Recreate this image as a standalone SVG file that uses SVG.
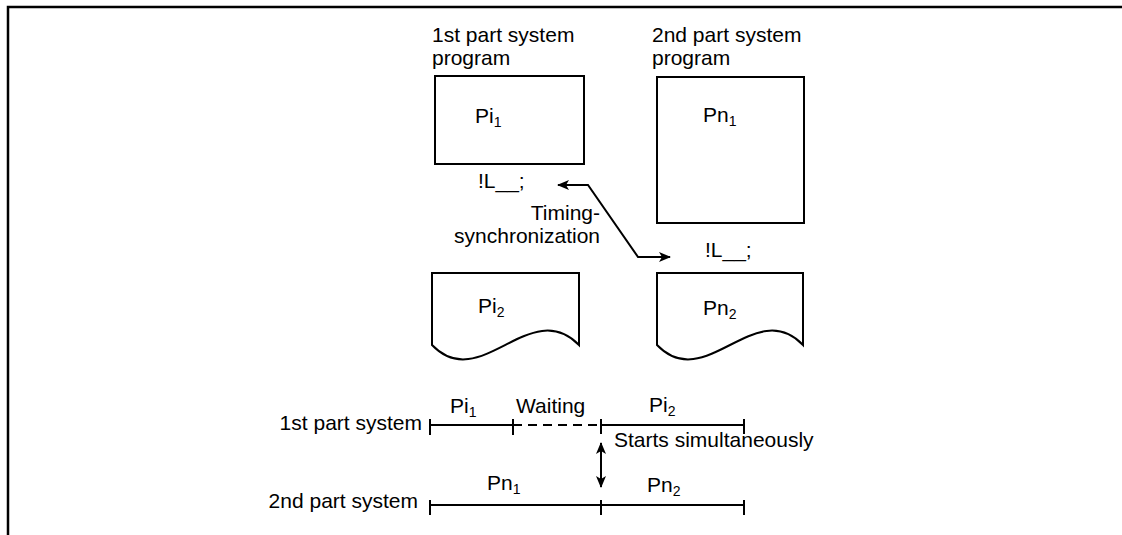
<svg xmlns="http://www.w3.org/2000/svg" width="1122" height="535" viewBox="0 0 1122 535">
<defs>
<marker id="ah" viewBox="0 0 12 10" refX="11" refY="5" markerWidth="12" markerHeight="10" markerUnits="userSpaceOnUse" orient="auto-start-reverse">
<path d="M0,0 L12,5 L0,10 L3,5 Z" fill="#000"/>
</marker>
</defs>
<style>
text{font-family:"Liberation Sans",Arial,sans-serif;font-size:21px;fill:#000}
.sub{font-size:14px}
.shape{fill:#fff;stroke:#000;stroke-width:2}
.ln{fill:none;stroke:#000;stroke-width:2}
.dash{fill:none;stroke:#000;stroke-width:2;stroke-dasharray:9,6}
</style>
<rect width="1122" height="535" fill="#fff"/>
<path d="M8,535 V7 H1122" fill="none" stroke="#000" stroke-width="2.5"/>

<g id="label-prog1">
<text x="432" y="42">1st part system</text>
<text x="432" y="65">program</text>
</g>
<g id="label-prog2">
<text x="652" y="42">2nd part system</text>
<text x="652" y="65">program</text>
</g>

<g id="node-pi1">
<rect class="shape" x="435" y="76" width="149" height="88"/>
<text x="475" y="123">Pi<tspan class="sub" dy="4">1</tspan></text>
</g>
<g id="node-pn1">
<rect class="shape" x="657" y="77" width="147" height="146"/>
<text x="703" y="122">Pn<tspan class="sub" dy="4">1</tspan></text>
</g>
<g id="label-l1"><text x="478" y="188">!L__;</text></g>
<g id="label-l2"><text x="705" y="257">!L__;</text></g>
<g id="label-sync">
<text x="600" y="220" text-anchor="end">Timing-</text>
<text x="600" y="243" text-anchor="end">synchronization</text>
</g>

<g id="node-pi2">
<path class="shape" d="M432,345 V273 H579 V345 C530,295 480,395 432,345 Z"/>
<text x="478" y="313">Pi<tspan class="sub" dy="4">2</tspan></text>
</g>
<g id="node-pn2">
<path class="shape" d="M657,345 V273 H803 V345 C755,295 705,395 657,345 Z"/>
<text x="703" y="315">Pn<tspan class="sub" dy="4">2</tspan></text>
</g>

<g id="connectors">
<path class="ln" d="M558,185 H588 L638,257 H670" marker-start="url(#ah)" marker-end="url(#ah)"/>
<line class="ln" x1="601" y1="443" x2="601" y2="487" marker-start="url(#ah)" marker-end="url(#ah)"/>
</g>

<g id="timeline-1">
<text x="422" y="430" text-anchor="end">1st part system</text>
<line class="ln" x1="430" y1="425" x2="513" y2="425"/>
<line class="dash" x1="513" y1="425" x2="601" y2="425"/>
<line class="ln" x1="601" y1="425" x2="744" y2="425"/>
<line class="ln" x1="430" y1="419" x2="430" y2="435"/>
<line class="ln" x1="513" y1="419" x2="513" y2="435"/>
<line class="ln" x1="601" y1="419" x2="601" y2="434"/>
<line class="ln" x1="744" y1="419" x2="744" y2="434"/>
<text x="450" y="413">Pi<tspan class="sub" dy="4">1</tspan></text>
<text x="516" y="413">Waiting</text>
<text x="649" y="412">Pi<tspan class="sub" dy="4">2</tspan></text>
<text x="614" y="447">Starts simultaneously</text>
</g>
<g id="timeline-2">
<text x="418" y="508" text-anchor="end">2nd part system</text>
<line class="ln" x1="430" y1="505" x2="744" y2="505"/>
<line class="ln" x1="430" y1="500" x2="430" y2="515"/>
<line class="ln" x1="601" y1="500" x2="601" y2="515"/>
<line class="ln" x1="744" y1="500" x2="744" y2="515"/>
<text x="487" y="490">Pn<tspan class="sub" dy="4">1</tspan></text>
<text x="647" y="492">Pn<tspan class="sub" dy="4">2</tspan></text>
</g>
</svg>
